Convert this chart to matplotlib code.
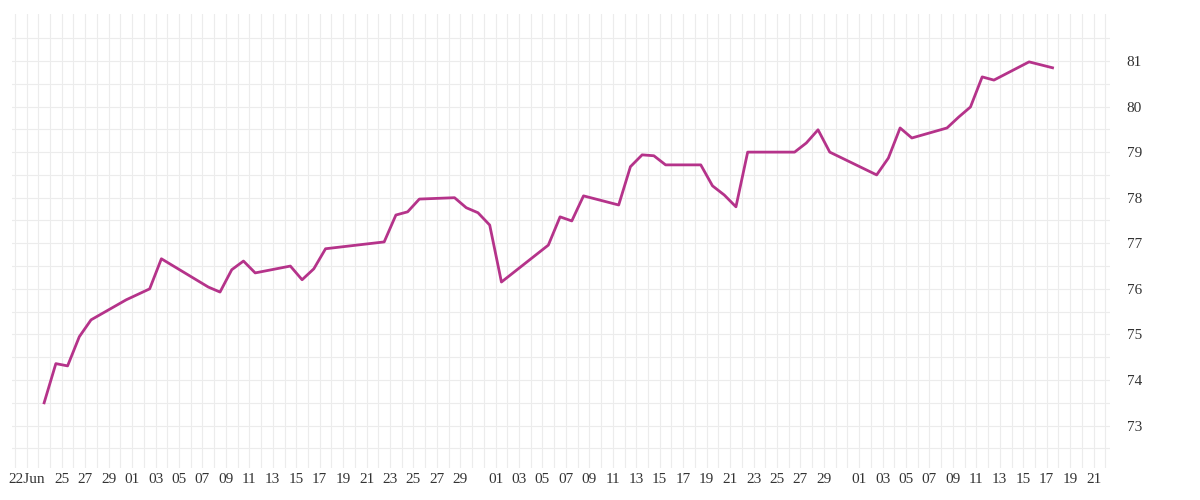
import pandas as pd
import matplotlib
matplotlib.use('Agg')
from matplotlib import pyplot as plt
import matplotlib.dates as mdates

# days after 22 Jun 2020 and values
day_offsets = [1, 2, 3, 4, 5, 8, 10, 11, 15, 16, 17, 18, 19, 22, 23, 24, 25, 30, 31, 32, 33,
               36, 37, 38, 39, 40, 44, 45, 46, 47, 50, 51, 52, 53, 54, 57, 58, 59, 60, 61,
               65, 66, 67, 68, 72, 73, 74, 75, 78, 79, 80, 81, 82, 85, 87]
values = [73.50, 74.36, 74.31, 74.95, 75.32, 75.76, 76.00, 76.66, 76.04, 75.93, 76.42, 76.61,
          76.35, 76.50, 76.20, 76.44, 76.88, 77.03, 77.62, 77.69, 77.97, 78.00, 77.78, 77.67,
          77.40, 76.15, 76.96, 77.58, 77.49, 78.04, 77.84, 78.68, 78.94, 78.92, 78.72, 78.72,
          78.26, 78.06, 77.80, 79.00, 79.00, 79.20, 79.49, 79.00, 78.50, 78.87, 79.53, 79.31,
          79.53, 79.77, 79.99, 80.65, 80.58, 80.98, 80.85]

start = pd.Timestamp('2020-06-22')
dates = [start + pd.Timedelta(days=d, hours=12) for d in day_offsets]

plt.rcParams['font.family'] = ['Liberation Serif', 'DejaVu Serif']

fig = plt.figure(figsize=(12, 5), dpi=100)
ax = fig.add_axes([0.01, 0.064, 0.915, 0.908])
ax.plot(dates, values, color='#b5338a', linewidth=2)

ax.set_xlim(start - pd.Timedelta(days=1.24), start + pd.Timedelta(days=92.4))
ax.set_ylim(72.07, 82.03)

# ticks: every other day, skipping 23 Jun and 31st
tick_dates = [start] + [d for d in pd.date_range('2020-06-25', '2020-09-21')
                        if d.day % 2 == 1 and d.day != 31]
tick_labels = ['22Jun'] + [d.strftime('%d') for d in tick_dates[1:]]
ax.set_xticks(tick_dates)
ax.set_xticklabels(tick_labels)
ax.xaxis.set_minor_locator(mdates.DayLocator())
ax.set_yticks(range(73, 82))
ax.set_yticks([v + 0.5 for v in range(72, 82)], minor=True)

ax.yaxis.tick_right()
ax.tick_params(axis='both', which='both', length=0, labelsize=11, colors='#333333')
ax.tick_params(axis='y', pad=12)
ax.grid(True, which='both', color='#ececec', linewidth=0.8)
for s in ax.spines.values():
    s.set_visible(False)

plt.savefig('out.png')
